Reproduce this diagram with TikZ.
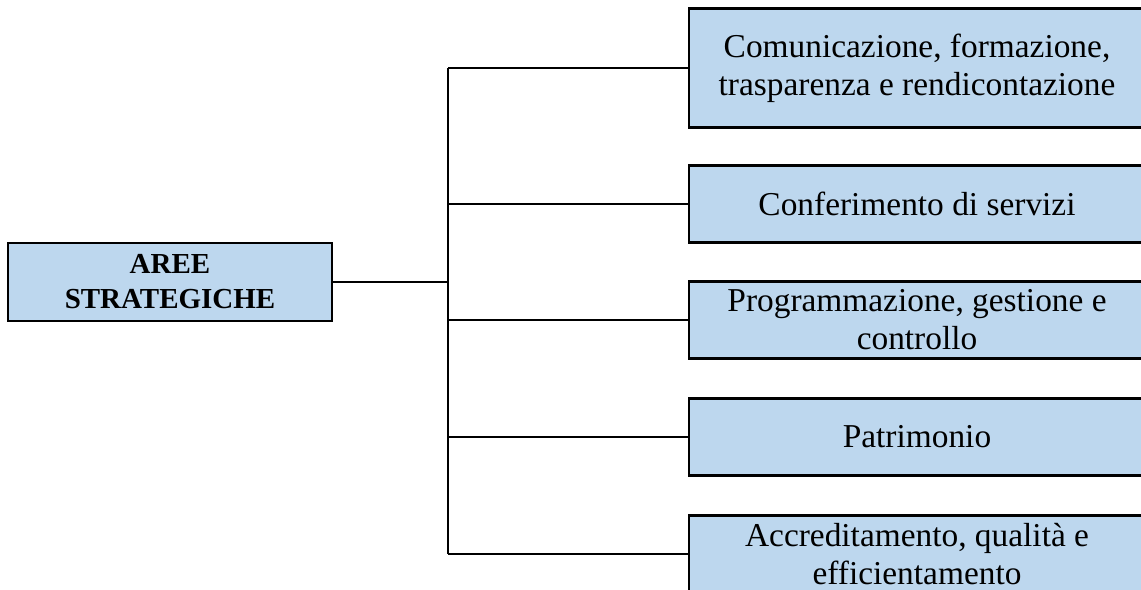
\documentclass[tikz,border=0pt]{standalone}
\usepackage{fontspec}
\setmainfont{Liberation Serif}
\usetikzlibrary{positioning,calc}
\definecolor{areablue}{RGB}{189,215,238}
\tikzset{
    frame line/.style={line width=1.4pt,black},
    root box/.style={frame line,draw,fill=areablue,align=center,inner sep=0pt,
        minimum width=6.48cm,minimum height=1.56cm,font=\fontsize{16.5}{20}\selectfont\bfseries},
    area box/.style={frame line,draw,fill=areablue,align=center,inner sep=0pt,
        minimum width=9.12cm,minimum height=1.54cm,font=\fontsize{19}{21.5}\selectfont},
    branch/.style={frame line},
}

\begin{document}
\begin{tikzpicture}[x=0.02cm,y=-0.02cm]
        \useasboundingbox (0,0) rectangle (1141,590);
        \node[root box] (root) at (170,282) {AREE\\STRATEGICHE};
        \node[area box,minimum height=2.38cm] (comm) at (917,68)
            {Comunicazione, formazione,\\trasparenza e rendicontazione};
        \node[area box] (serv) at (917,204) {Conferimento di servizi};
        \node[area box] (prog) at (917,320) {Programmazione, gestione e\\controllo};
        \node[area box] (patr) at (917,437) {Patrimonio};
        \node[area box] (accr) at (917,554) {Accreditamento, qualità e\\efficientamento};
        \coordinate (spine) at (448,282);
        % tree lines
        \draw[branch] (root.east) -- (spine);
        \draw[branch] (comm.west -| spine) -- (accr.west -| spine);
        \foreach \area in {comm,serv,prog,patr,accr}
            \draw[branch] (\area.west -| spine) -- (\area.west);
    \end{tikzpicture}
\end{document}
